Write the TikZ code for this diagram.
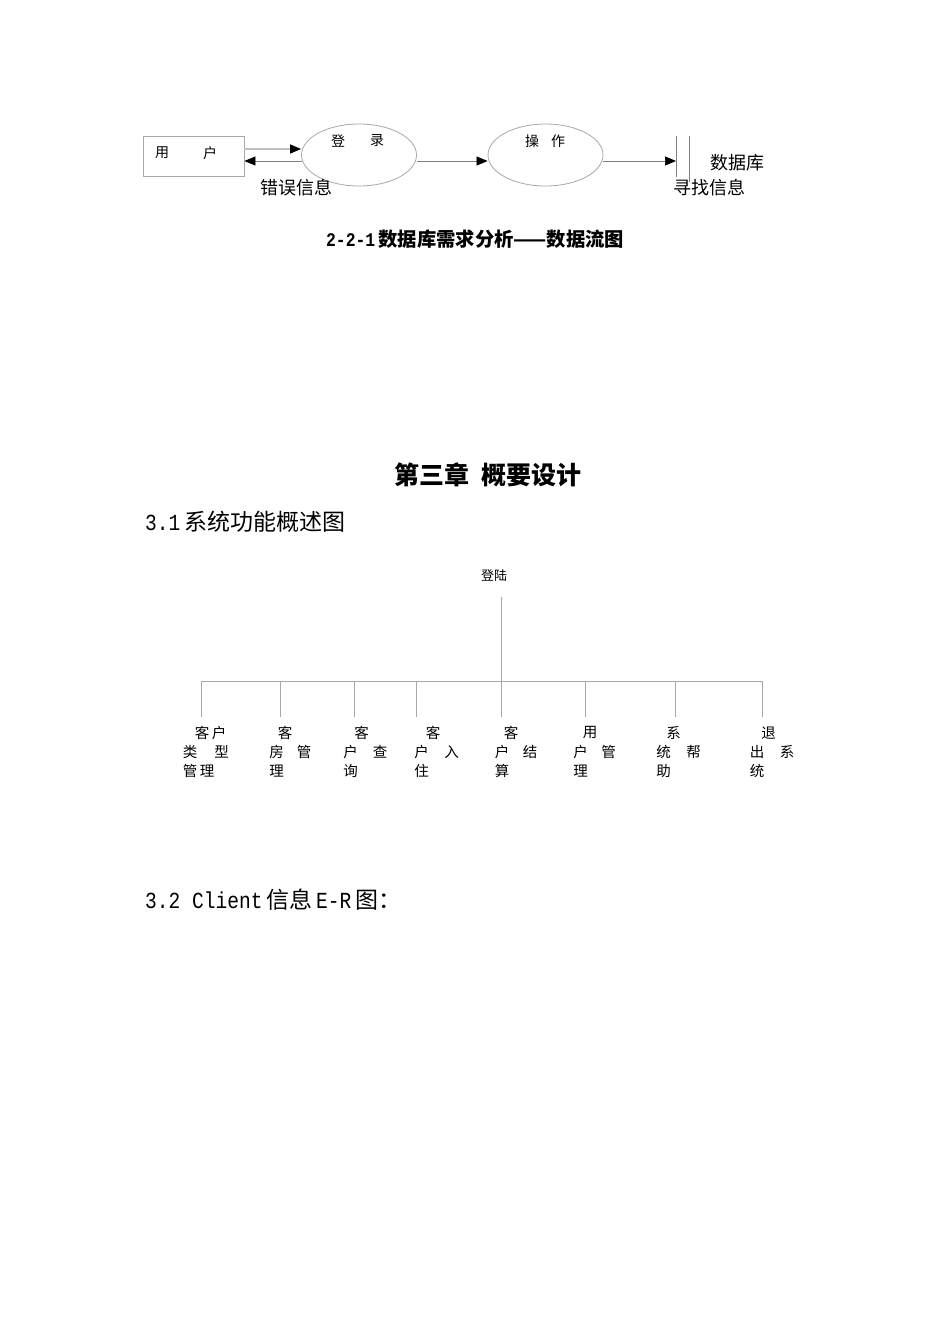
\documentclass[tikz,border=0pt]{standalone}
\usepackage{fontspec}
\setmainfont{Noto Sans CJK SC}
\newfontfamily\mono{Liberation Mono}[FakeStretch=0.85]
\usetikzlibrary{shapes.geometric,arrows.meta}
\definecolor{lgray}{HTML}{A8A8A8}
\definecolor{mgray}{HTML}{808080}
\tikzset{
  txt/.style={inner sep=0pt,font=\fontsize{14}{14}\selectfont},
  bigtxt/.style={inner sep=0pt,font=\fontsize{18}{18}\selectfont},
  ch/.style={inner sep=0pt,font=\fontsize{14.5}{14.5}\selectfont},
  proc/.style={ellipse,draw=lgray,line width=0.8pt,minimum width=115pt,minimum height=62pt,inner sep=0pt},
  ent/.style={rectangle,draw=lgray,line width=0.8pt,minimum width=101pt,minimum height=40pt,inner sep=0pt},
  flow/.style={draw=mgray,line width=0.7pt,-{Triangle[length=11pt,width=9pt,color=black]}},
  flowlight/.style={draw=lgray!70,line width=1.4pt,-{Triangle[length=11pt,width=9pt,color=black]}},
  tree/.style={draw=lgray,line width=0.8pt},
}
\begin{document}
\begin{tikzpicture}[x=1pt,y=-1pt]
\useasboundingbox (0,0) rectangle (950,1344);
\fill[white] (0,0) rectangle (950,1344);

% ---------- data flow diagram ----------
\node[ent] (user) at (193.5,156) {};
\node[txt] (u1) at (162,153) {用};
\node[txt] (u2) at (210,153) {户};

\node[proc] (login) at (359,155) {};
\node[txt] (l1) at (338,141) {登};
\node[txt] (l2) at (377,141) {录};

\node[proc] (op) at (545.5,155) {};
\node[txt] (o1) at (532,141) {操};
\node[txt] (o2) at (558,141) {作};

\coordinate (db) at (676,161);
\coordinate (dbtopL) at (676,136);
\coordinate (dbbotL) at (676,177);
\coordinate (dbtopR) at (689,136);
\coordinate (dbbotR) at (689,182);
\draw[draw=mgray,line width=0.7pt] (dbtopL) -- (dbbotL);
\draw[draw=mgray,line width=0.7pt] (dbtopR) -- (dbbotR);

\draw[flowlight] (user.east |- 0,149) -- (login.west |- 0,149);
\draw[flow] (login.west |- 0,161) ++(1,0) -- (user.east |- 0,161);
\draw[flow] (login.east |- 0,161) -- (op.west |- 0,161);
\draw[flow] (op.east |- 0,161) -- (db);

\node[bigtxt] (err) at (296,188) {错误信息};
\node[bigtxt] (dbl) at (737.5,163) {数据库};
\node[bigtxt] (find) at (709,188) {寻找信息};

\node[inner sep=0pt,font=\fontsize{19.3}{19.3}\selectfont\bfseries] (cap) at (475,239) {{\mono\bfseries 2-2-1}\,数据库需求分析——数据流图};

% ---------- chapter heading ----------
\node[inner sep=0pt,font=\fontsize{25}{25}\selectfont\bfseries] (chap) at (488,475) {第三章\hspace{0.5em}概要设计};
\node[inner sep=0pt,anchor=west,font=\fontsize{23}{23}\selectfont] (s31) at (145,522) {{\mono 3.1}\,系统功能概述图};

% ---------- function tree ----------
\node[inner sep=0pt,font=\fontsize{13}{13}\selectfont] (root) at (494,576) {登陆};
\coordinate (rtop) at (501,597);
\coordinate (rbar) at (501,681);
\draw[tree] (rtop) -- (rbar);
\coordinate (barL) at (201,681);
\coordinate (barR) at (762.5,681);
\draw[tree] (barL) -- (barR);
\foreach \n/\x in {1/201,2/280,3/354,4/416,5/501,6/585.5,7/675,8/762.5}{
  \coordinate (t\n) at (\x,681);
  \coordinate (c\n) at (\x,717);
  \draw[tree] (t\n) -- (c\n);
}

% column 1
\node[ch] (k1a) at (202,733) {客};
\node[ch] (k1b) at (219,733) {户};
\node[ch] (k1c) at (190,752) {类};
\node[ch] (k1d) at (221.5,752) {型};
\node[ch] (k1e) at (190,771) {管};
\node[ch] (k1f) at (207,771) {理};
% column 2
\node[ch] (k2a) at (285,733) {客};
\node[ch] (k2b) at (276.5,752) {房};
\node[ch] (k2c) at (304,752) {管};
\node[ch] (k2d) at (276.5,771) {理};
% column 3
\node[ch] (k3a) at (361.5,733) {客};
\node[ch] (k3b) at (350.5,752) {户};
\node[ch] (k3c) at (380,752) {查};
\node[ch] (k3d) at (350.5,771) {询};
% column 4
\node[ch] (k4a) at (433,733) {客};
\node[ch] (k4b) at (421.5,752) {户};
\node[ch] (k4c) at (451.5,752) {入};
\node[ch] (k4d) at (421.5,771) {住};
% column 5
\node[ch] (k5a) at (511,733) {客};
\node[ch] (k5b) at (502,752) {户};
\node[ch] (k5c) at (530,752) {结};
\node[ch] (k5d) at (502,771) {算};
% column 6
\node[ch] (k6a) at (590,733) {用};
\node[ch] (k6b) at (580.5,752) {户};
\node[ch] (k6c) at (608.5,752) {管};
\node[ch] (k6d) at (580.5,771) {理};
% column 7
\node[ch] (k7a) at (673.5,733) {系};
\node[ch] (k7b) at (663.5,752) {统};
\node[ch] (k7c) at (693.5,752) {帮};
\node[ch] (k7d) at (663.5,771) {助};
% column 8
\node[ch] (k8a) at (768.5,733) {退};
\node[ch] (k8b) at (757,752) {出};
\node[ch] (k8c) at (787,752) {系};
\node[ch] (k8d) at (757,771) {统};

% ---------- section 3.2 ----------
\node[inner sep=0pt,anchor=west,font=\fontsize{23}{23}\selectfont] (s32) at (145,900) {{\mono 3.2 Client}\,信息\,{\mono E-R}\,图：};
\end{tikzpicture}
\end{document}
